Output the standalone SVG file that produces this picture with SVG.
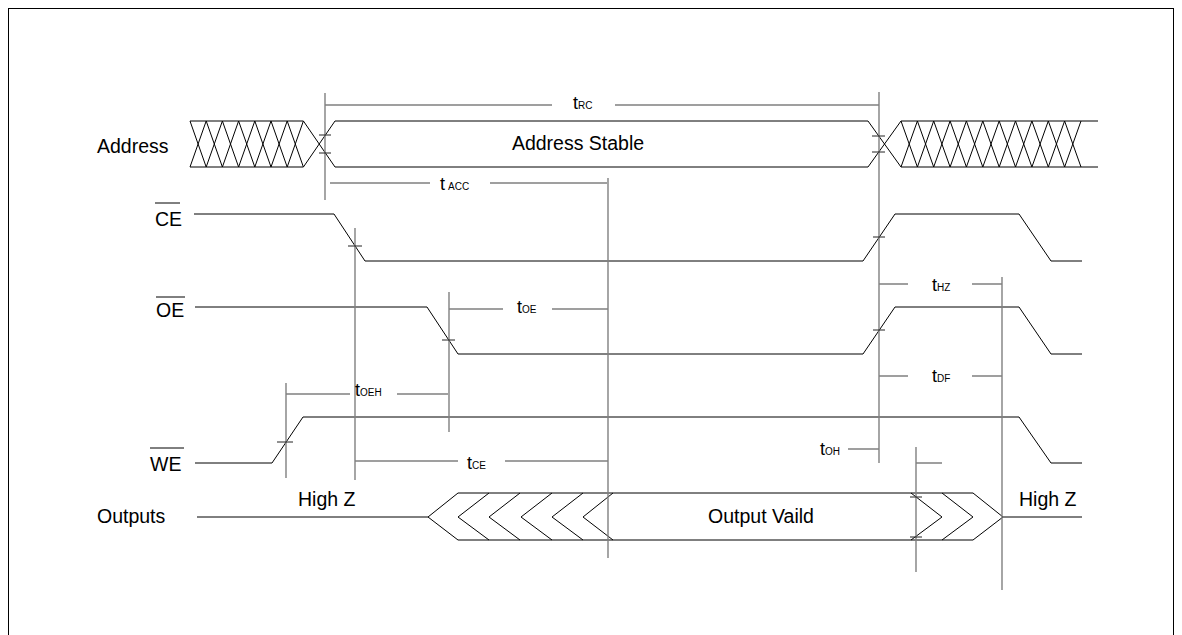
<svg xmlns="http://www.w3.org/2000/svg" width="1182" height="635" viewBox="0 0 1182 635">
<style>
.sig{stroke:#000;stroke-width:1;fill:none}
.tm{stroke:#808080;stroke-width:1.4;fill:none}
.tk{stroke:#222;stroke-width:1;fill:none}
.lbl{font-family:"Liberation Sans",Arial,sans-serif;font-size:19.5px;fill:#000}
.t{font-family:"Liberation Sans",Arial,sans-serif;font-size:18px;fill:#000}
.s{font-size:10px}
</style>
<rect x="8.5" y="8.5" width="1165" height="640" fill="#fff" stroke="#000" stroke-width="1"/>

<g id="address">
<path class="sig" d="M190,121L206.2,167M190,167L206.2,121M206.2,121L222.4,167M206.2,167L222.4,121M222.4,121L238.6,167M222.4,167L238.6,121M238.6,121L254.8,167M238.6,167L254.8,121M254.8,121L271,167M254.8,167L271,121M271,121L287.2,167M271,167L287.2,121M287.2,121L303.4,167M287.2,167L303.4,121M190,121H303.4M190,167H303.4"/>
<path class="sig" d="M303.4,121L335,167M303.4,167L335,121M335,121H868M335,167H868M868,121L901,167M868,167L901,121"/>
<path class="sig" d="M901,121L917.4,167M901,167L917.4,121M917.4,121L933.7,167M917.4,167L933.7,121M933.7,121L950.1,167M933.7,167L950.1,121M950.1,121L966.4,167M950.1,167L966.4,121M966.4,121L982.8,167M966.4,167L982.8,121M982.8,121L999.2,167M982.8,167L999.2,121M999.2,121L1015.5,167M999.2,167L1015.5,121M1015.5,121L1031.9,167M1015.5,167L1031.9,121M1031.9,121L1048.3,167M1031.9,167L1048.3,121M1048.3,121L1064.6,167M1048.3,167L1064.6,121M1064.6,121L1081,167M1064.6,167L1081,121M901,121H1098M901,167H1098"/>
<text class="lbl" x="97" y="153">Address</text>
<text class="lbl" x="578" y="150" text-anchor="middle">Address Stable</text>
</g>

<g id="ce">
<path class="sig" d="M194,214H334L365,261H863L895,214H1019L1051,261H1082"/>
<text class="lbl" x="155" y="226">CE</text>
<line class="sig" x1="155" y1="203" x2="180" y2="203"/>
</g>

<g id="oe">
<path class="sig" d="M195,307H427L458,354H863L895,307H1019L1051,354H1082"/>
<text class="lbl" x="156" y="317">OE</text>
<line class="sig" x1="156" y1="297" x2="185" y2="297"/>
</g>

<g id="we">
<path class="sig" d="M195,463H272L303,417H1019L1051,463H1082"/>
<text class="lbl" x="150" y="471">WE</text>
<line class="sig" x1="150" y1="448" x2="184" y2="448"/>
</g>

<g id="outputs">
<path class="sig" d="M197,517H428L458,493H973L1003,517H1082M428,517L458,540H973L1003,517"/>
<path class="sig" d="M489,493L458,517L489,540M520,493L489,517L520,540M552,493L521,517L552,540M583,493L552,517L583,540M613,493L583,517L613,540"/>
<path class="sig" d="M911,493L942,517L911,540M942,493L973,517L942,540"/>
<text class="lbl" x="97" y="523">Outputs</text>
<text class="lbl" x="298" y="506">High Z</text>
<text class="lbl" x="1019" y="506">High Z</text>
<text class="lbl" x="761" y="523" text-anchor="middle">Output Vaild</text>
</g>

<g id="connectors">
<path class="tm" d="M325,93V200M879,92V463M608,178V558M355,228V480M449,292V432M286,383V478M1002,277V590M916,447V572"/>
<path class="tm" d="M325,105H552M615,105H879M330,183H430M490,183H607M355,461H458M505,461H608M449,309H503M552,309H608M286,394H350M397,394H448M879,284H908M972,284H1002M879,376H908M972,376H1002M848,449H879M916,463H942"/>
<path class="tk" d="M319,135H331M319,153H331M872,136H885M872,152H885M348,246H362M442,340H455M277,442H293M873,237H885M873,330H885M910,497H922M910,537H922"/>
<text class="t" x="573" y="109">t<tspan class="s">RC</tspan></text>
<text class="t" x="440" y="190">t<tspan class="s" dx="3">ACC</tspan></text>
<text class="t" x="517" y="313">t<tspan class="s">OE</tspan></text>
<text class="t" x="355" y="396">t<tspan class="s">OEH</tspan></text>
<text class="t" x="467" y="469">t<tspan class="s">CE</tspan></text>
<text class="t" x="932" y="291">t<tspan class="s">HZ</tspan></text>
<text class="t" x="932" y="382">t<tspan class="s">DF</tspan></text>
<text class="t" x="820" y="455">t<tspan class="s">OH</tspan></text>
</g>
</svg>
